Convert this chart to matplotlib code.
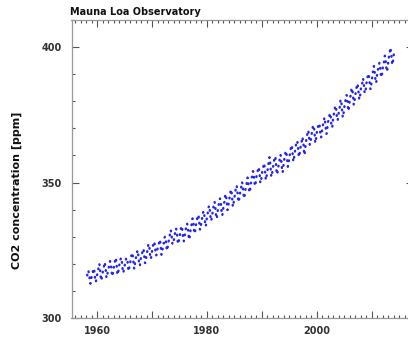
import numpy as np
import matplotlib
matplotlib.use("Agg")
import matplotlib.pyplot as plt
from matplotlib.ticker import MultipleLocator

# Mauna Loa monthly CO2 (ppm), first value is March 1958
start_year = 1958
start_month = 3

co2_1958_1969 = [
    [315.71, 317.45, 317.50, 317.10, 315.86, 314.93, 313.20, 312.66, 313.33, 314.67],
    [315.62, 316.38, 316.71, 317.72, 318.29, 318.15, 316.54, 314.80, 313.84, 313.26, 314.80, 315.58],
    [316.43, 316.97, 317.58, 319.02, 320.03, 319.59, 318.18, 315.91, 314.16, 313.83, 315.00, 316.19],
    [316.93, 317.70, 318.54, 319.48, 320.58, 319.77, 318.57, 316.79, 314.80, 315.38, 316.10, 317.01],
    [317.94, 318.56, 319.68, 320.63, 321.01, 320.55, 319.58, 317.40, 316.26, 315.42, 316.69, 317.69],
    [318.74, 319.08, 319.86, 321.39, 322.25, 321.47, 319.74, 317.77, 316.21, 315.99, 317.12, 318.31],
    [319.57, 320.07, 320.73, 321.77, 322.25, 321.89, 320.44, 318.70, 316.70, 316.79, 317.79, 318.71],
    [319.44, 320.44, 320.89, 322.13, 322.16, 321.87, 321.39, 318.81, 317.81, 317.30, 318.87, 319.42],
    [320.62, 321.59, 322.39, 323.87, 324.01, 323.75, 322.39, 320.37, 318.64, 318.10, 319.79, 321.08],
    [322.07, 322.50, 323.04, 324.42, 325.00, 324.09, 322.55, 320.92, 319.31, 319.31, 320.72, 321.96],
    [322.57, 323.15, 323.89, 325.02, 325.57, 325.36, 324.14, 322.03, 320.41, 320.25, 321.31, 322.84],
    [324.00, 324.42, 325.64, 326.66, 327.34, 326.76, 325.88, 323.67, 322.38, 321.78, 322.85, 324.11],
]

co2_1970_1979 = [
    [325.03, 325.99, 326.87, 328.13, 328.07, 327.66, 326.35, 324.69, 323.10, 323.16, 323.98, 325.13],
    [326.17, 326.68, 327.18, 327.78, 328.92, 328.57, 327.34, 325.46, 323.36, 323.57, 324.80, 326.01],
    [326.77, 327.63, 327.75, 329.72, 330.07, 329.09, 328.05, 326.32, 324.93, 325.06, 326.50, 327.55],
    [328.54, 329.56, 330.30, 331.50, 332.48, 332.07, 330.87, 329.31, 327.51, 327.18, 328.16, 328.64],
    [329.35, 330.71, 331.48, 332.65, 333.09, 332.25, 331.18, 329.40, 327.43, 327.37, 328.46, 329.57],
    [330.40, 331.40, 332.04, 333.31, 333.96, 333.59, 331.91, 330.06, 328.56, 328.34, 329.49, 330.76],
    [331.75, 332.56, 333.50, 334.58, 334.87, 334.34, 333.05, 330.94, 329.30, 328.94, 330.31, 331.68],
    [332.93, 333.42, 334.70, 336.07, 336.74, 336.27, 334.93, 332.75, 331.58, 331.16, 332.40, 333.85],
    [334.97, 335.39, 336.64, 337.76, 338.01, 337.89, 336.54, 334.68, 332.76, 332.54, 333.92, 334.95],
    [336.23, 336.76, 337.96, 338.89, 339.47, 339.29, 337.73, 336.09, 333.91, 333.86, 335.29, 336.73],
]

co2_1980_1989 = [
    [338.01, 338.36, 340.08, 340.77, 341.46, 341.17, 339.56, 337.60, 335.88, 336.01, 337.10, 338.21],
    [339.24, 340.48, 341.38, 342.51, 342.91, 342.25, 340.49, 338.43, 336.69, 336.85, 338.36, 339.61],
    [340.75, 341.61, 342.70, 343.56, 344.13, 343.35, 342.06, 339.82, 337.97, 337.86, 339.26, 340.49],
    [341.38, 342.52, 343.10, 344.94, 345.75, 345.32, 343.99, 342.39, 339.86, 339.99, 341.16, 342.99],
    [343.70, 344.51, 345.28, 347.08, 347.43, 346.79, 345.40, 343.28, 341.07, 341.35, 342.98, 344.22],
    [344.97, 345.99, 347.42, 348.35, 348.93, 348.25, 346.56, 344.67, 343.09, 342.80, 344.24, 345.56],
    [346.30, 346.95, 347.85, 349.55, 350.21, 349.55, 347.94, 345.91, 344.86, 344.17, 345.66, 346.90],
    [348.02, 348.47, 349.42, 350.99, 351.84, 351.25, 349.52, 348.10, 346.44, 346.36, 347.81, 348.96],
    [350.43, 351.72, 352.22, 353.59, 354.22, 353.79, 352.39, 350.44, 348.72, 348.88, 350.07, 351.34],
    [352.76, 353.07, 353.68, 355.42, 355.67, 355.13, 353.90, 351.67, 349.80, 349.99, 351.30, 352.53],
]

co2_1990_1999 = [
    [353.66, 354.70, 355.39, 356.20, 357.16, 356.22, 354.82, 352.91, 350.96, 351.18, 352.83, 354.21],
    [354.72, 355.75, 357.16, 358.60, 359.34, 358.24, 356.17, 354.02, 352.15, 352.21, 353.75, 354.99],
    [355.98, 356.72, 357.81, 359.15, 359.66, 359.25, 357.02, 355.00, 353.01, 353.31, 354.16, 355.40],
    [356.70, 357.16, 358.38, 359.46, 360.28, 359.60, 357.57, 355.52, 353.70, 353.98, 355.33, 356.80],
    [358.36, 358.91, 359.97, 361.26, 361.68, 360.95, 359.55, 357.49, 355.84, 356.00, 357.58, 359.04],
    [359.96, 361.00, 361.64, 363.45, 363.79, 363.26, 361.90, 359.46, 358.06, 357.75, 359.56, 360.70],
    [362.05, 363.25, 364.03, 364.72, 365.41, 364.97, 363.65, 361.49, 359.46, 359.60, 360.76, 362.33],
    [363.18, 364.00, 364.57, 366.35, 366.79, 365.62, 364.47, 362.51, 360.19, 360.77, 362.43, 364.28],
    [365.32, 366.15, 367.31, 368.61, 369.29, 368.87, 367.64, 365.77, 363.90, 364.23, 365.46, 366.97],
    [368.15, 368.87, 369.59, 371.14, 371.00, 370.35, 369.27, 366.94, 364.63, 365.12, 366.67, 368.01],
]

co2_2000_2014 = [
    [369.14, 369.46, 370.52, 371.66, 371.82, 371.70, 370.12, 368.12, 366.62, 366.73, 368.29, 369.53],
    [370.28, 371.50, 372.12, 372.87, 374.02, 373.30, 371.62, 369.55, 367.96, 368.09, 369.68, 371.24],
    [372.44, 373.08, 373.52, 374.85, 375.55, 375.40, 374.02, 371.49, 370.71, 370.25, 372.08, 373.78],
    [374.68, 375.63, 376.11, 377.65, 378.35, 378.13, 376.62, 374.50, 372.99, 373.00, 374.35, 375.70],
    [376.79, 377.37, 378.41, 380.52, 380.63, 379.57, 377.79, 375.86, 374.06, 374.24, 375.86, 377.48],
    [378.37, 379.69, 380.41, 382.10, 382.28, 382.13, 380.66, 378.71, 376.42, 376.88, 378.32, 379.92],
    [381.38, 382.03, 382.64, 384.62, 384.87, 384.36, 382.68, 380.42, 378.66, 379.04, 380.49, 381.83],
    [382.89, 383.89, 384.91, 386.44, 386.37, 385.60, 384.26, 382.24, 380.67, 380.74, 382.14, 383.58],
    [385.44, 385.73, 385.97, 387.16, 388.50, 387.88, 386.38, 384.15, 383.07, 382.98, 384.11, 385.54],
    [386.92, 387.41, 388.77, 389.46, 390.18, 389.43, 387.74, 385.91, 384.77, 384.38, 385.99, 387.26],
    [388.45, 389.82, 391.08, 392.46, 393.00, 392.12, 390.24, 388.00, 386.81, 386.83, 388.38, 389.81],
    [391.08, 391.80, 392.40, 393.20, 394.20, 393.70, 392.10, 390.10, 389.00, 388.90, 390.20, 391.80],
    [393.10, 393.60, 394.40, 396.20, 396.80, 395.90, 394.50, 392.50, 391.00, 391.10, 392.70, 394.00],
    [395.40, 396.60, 397.40, 398.40, 399.80, 398.60, 397.30, 395.30, 393.50, 393.70, 395.20, 396.80],
    [397.80, 398.10],
]

title = "Mauna Loa Observatory"
ylabel = "CO2 concentration [ppm]"
xticks_labeled = [1960, 1980, 2000]
yticks_labeled = [300, 350, 400]

# flatten and build decimal-year time axis
rows = co2_1958_1969 + co2_1970_1979 + co2_1980_1989 + co2_1990_1999 + co2_2000_2014
ppm = np.array([v for row in rows for v in row])
month_index = np.arange(len(ppm)) + (start_month - 1)
t = start_year + (month_index + 0.5) / 12.0

W, H = 408, 352
fig = plt.figure(figsize=(W / 100, H / 100), dpi=100)
# right edge of the frame sits just outside the picture, as in the original
ax = fig.add_axes([71.5 / W, 34 / H, 341 / W, 298 / H])

ax.plot(t, ppm, color="#2424ee", linestyle=(0, (0.3, 2.3)), linewidth=1.7,
        dash_capstyle="round")

ax.set_xlim(1955.35, 2017.4)
ax.set_ylim(300, 410)

ax.set_xticks(xticks_labeled + [1970, 1990, 2010])
ax.set_xticklabels([str(x) for x in xticks_labeled] + ["", "", ""])
ax.xaxis.set_minor_locator(MultipleLocator(1))
ax.set_yticks(yticks_labeled)
ax.yaxis.set_minor_locator(MultipleLocator(10))

for side in ax.spines:
    ax.spines[side].set_color("#999999")
    ax.spines[side].set_linewidth(0.9)

ax.tick_params(which="both", direction="in", top=True, right=True, color="#555555", width=0.8)
ax.tick_params(which="major", length=5)
ax.tick_params(which="minor", length=2.5)
ax.tick_params(axis="y", which="major", pad=7)
ax.tick_params(axis="x", which="major", pad=6)
for lab in ax.get_xticklabels() + ax.get_yticklabels():
    lab.set_fontsize(7)
    lab.set_fontweight("bold")
    lab.set_color("#333333")

ax.set_ylabel(ylabel, fontsize=8, fontweight="bold", color="#111111")
ax.yaxis.set_label_coords(-0.146, 0.43)

fig.text(70 / W, 1 - 12 / H, title, ha="left", va="center", fontsize=7, fontweight="bold", color="#111111")

fig.savefig("out.png", dpi=100)
